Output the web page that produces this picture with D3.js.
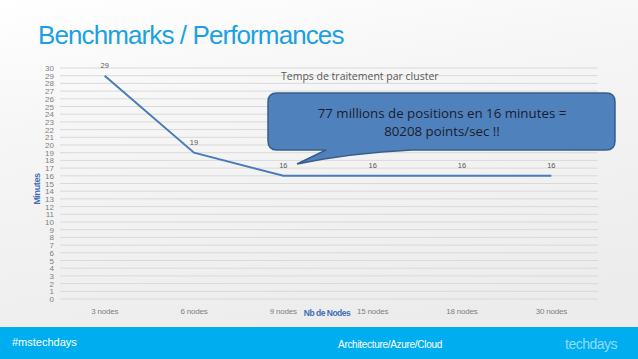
<!DOCTYPE html>
<html>
<head>
<meta charset="utf-8">
<script src="https://cdn.jsdelivr.net/npm/d3@7"></script>
<style>
  html, body { margin: 0; padding: 0; }
  body { width: 638px; height: 359px; overflow: hidden; }
</style>
</head>
<body>
<div id="chart"></div>
<script>
// Data
const categories = ['3 nodes', '6 nodes', '9 nodes', '15 nodes', '18 nodes', '30 nodes']
const minutes = [29, 19, 16, 16, 16, 16]
const yTicks = d3.range(0, 31)

const width = 638
const height = 359

const svg = d3.select('#chart')
  .append('svg')
  .attr('width', width)
  .attr('height', height)
  .style('font-family', 'Liberation Sans, Arial, sans-serif')

const defs = svg.append('defs')
const bg = defs.append('linearGradient')
  .attr('id', 'bg')
  .attr('x1', 0).attr('y1', 0).attr('x2', 0.3).attr('y2', 1)
bg.append('stop').attr('offset', '0%').attr('stop-color', '#ffffff')
bg.append('stop').attr('offset', '35%').attr('stop-color', '#f6f6f6')
bg.append('stop').attr('offset', '100%').attr('stop-color', '#ececec')

svg.append('rect')
  .attr('width', width).attr('height', height)
  .attr('fill', 'url(#bg)')

// Slide title
svg.append('text')
  .attr('x', 38).attr('y', 44)
  .attr('fill', '#1ba1e2')
  .style('font-size', '26px')
  .style('letter-spacing', '-0.9px')
  .text('Benchmarks / Performances')

// Scales
const x = d3.scaleBand()
  .domain(categories)
  .range([60, 596])

const y = d3.scaleLinear()
  .domain([0, 30])
  .range([299, 68])

const g = svg.append('g')

// Gridlines
g.selectAll('.grid')
  .data(yTicks)
  .join('line')
  .attr('class', 'grid')
  .attr('x1', 60).attr('x2', 598)
  .attr('y1', d => y(d)).attr('y2', d => y(d))
  .attr('stroke', '#d9d9d9')
  .attr('stroke-width', 1)

// Y axis labels
const yAxis = g.append('g')
  .attr('transform', 'translate(57,0)')
  .call(d3.axisLeft(y).tickValues(yTicks).tickSize(0).tickPadding(3))
yAxis.select('.domain').remove()
yAxis.selectAll('text')
  .attr('fill', '#7f7f7f')
  .style('font-size', '8px')
  .style('font-family', 'Liberation Sans, Arial, sans-serif')

// X axis labels
const xAxis = g.append('g')
  .attr('transform', 'translate(0,306)')
  .call(d3.axisBottom(x).tickSize(0).tickPadding(2))
xAxis.select('.domain').remove()
xAxis.selectAll('text')
  .attr('fill', '#7f7f7f')
  .style('font-size', '8px')
  .style('letter-spacing', '-0.2px')
  .style('font-family', 'Liberation Sans, Arial, sans-serif')

// Axis titles
svg.append('text')
  .attr('x', 327).attr('y', 316)
  .attr('text-anchor', 'middle')
  .attr('fill', '#3f6db4')
  .style('font-size', '8.5px')
  .style('font-weight', 'bold')
  .style('letter-spacing', '-0.5px')
  .text('Nb de Nodes')

svg.append('text')
  .attr('transform', 'translate(40,189) rotate(-90)')
  .attr('text-anchor', 'middle')
  .attr('fill', '#3f6db4')
  .style('font-size', '9px')
  .style('font-weight', 'bold')
  .style('letter-spacing', '-0.4px')
  .text('Minutes')

// Chart title
svg.append('text')
  .attr('x', 281).attr('y', 80)
  .attr('fill', '#595959')
  .style('font-size', '10.5px')
  .style('font-family', 'Open Sans, sans-serif')
  .text('Temps de traitement par cluster')

// Line
const line = d3.line()
  .x((d, i) => x(categories[i]) + x.bandwidth() / 2)
  .y(d => y(d))

g.append('path')
  .datum(minutes)
  .attr('d', line)
  .attr('fill', 'none')
  .attr('stroke', '#4a7ab8')
  .attr('stroke-width', 2)

// Data labels
g.selectAll('.lbl')
  .data(minutes)
  .join('text')
  .attr('class', 'lbl')
  .attr('x', (d, i) => x(categories[i]) + x.bandwidth() / 2)
  .attr('y', d => y(d) - 8)
  .attr('text-anchor', 'middle')
  .attr('fill', '#595959')
  .style('font-size', '7.5px')
  .text(d => d)

// Callout bubble
const bx = 268, by = 93, bw = 347, bh = 57, r = 9
const callout = d3.path()
callout.moveTo(bx + r, by)
callout.lineTo(bx + bw - r, by)
callout.quadraticCurveTo(bx + bw, by, bx + bw, by + r)
callout.lineTo(bx + bw, by + bh - r)
callout.quadraticCurveTo(bx + bw, by + bh, bx + bw - r, by + bh)
callout.lineTo(412, by + bh)
callout.quadraticCurveTo(350, by + bh + 3, 297, 164)
callout.lineTo(326, by + bh)
callout.lineTo(bx + r, by + bh)
callout.quadraticCurveTo(bx, by + bh, bx, by + bh - r)
callout.lineTo(bx, by + r)
callout.quadraticCurveTo(bx, by, bx + r, by)
callout.closePath()

svg.append('path')
  .attr('d', callout.toString())
  .attr('fill', '#4f81bd')
  .attr('stroke', '#385d8a')
  .attr('stroke-width', 1.5)

const calloutLines = ['77 millions de positions en 16 minutes =', '80208 points/sec !!']
svg.selectAll('.cl')
  .data(calloutLines)
  .join('text')
  .attr('class', 'cl')
  .attr('x', 442)
  .attr('y', (d, i) => 118 + i * 18)
  .attr('text-anchor', 'middle')
  .attr('fill', '#1c1c2c')
  .style('font-size', '13.3px')
  .style('font-family', 'Open Sans, sans-serif')
  .text(d => d)

// Footer band
svg.append('rect')
  .attr('x', 0).attr('y', 327)
  .attr('width', width).attr('height', 32)
  .attr('fill', '#00aeef')

svg.append('text')
  .attr('x', 12).attr('y', 346)
  .attr('fill', '#ffffff')
  .style('font-size', '11px')
  .text('#mstechdays')

svg.append('text')
  .attr('x', 390).attr('y', 348)
  .attr('text-anchor', 'middle')
  .attr('fill', '#ffffff')
  .style('font-size', '10px')
  .style('letter-spacing', '-0.3px')
  .text('Architecture/Azure/Cloud')

svg.append('text')
  .attr('x', 565).attr('y', 349)
  .attr('fill', '#8fdcf8')
  .style('font-size', '14px')
  .style('font-weight', '300')
  .style('letter-spacing', '-0.5px')
  .text('techdays')
</script>
</body>
</html>
